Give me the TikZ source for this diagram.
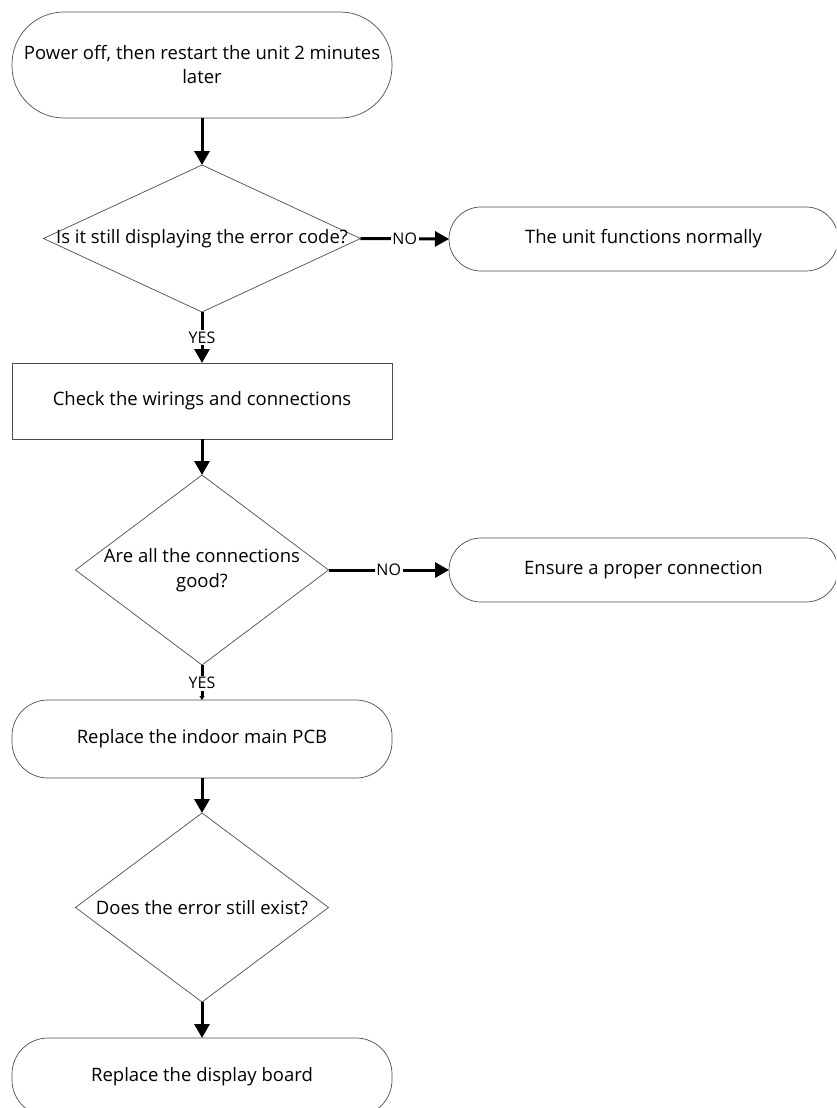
\documentclass[tikz,border=0pt]{standalone}
\usepackage{fontspec}
\setmainfont{Open Sans}
\usetikzlibrary{shapes.geometric,arrows.meta}
\begin{document}
\begin{tikzpicture}[x=1pt,y=-1pt,
  outline/.style={draw=black!70,line width=0.7pt},
  term/.style={outline,rectangle,inner sep=0pt,outer sep=0pt,align=center,font=\fontsize{18.5}{24}\selectfont,text=black},
  procbox/.style={outline,rectangle,inner sep=0pt,outer sep=0pt,align=center,font=\fontsize{18.5}{24}\selectfont,text=black},
  decision/.style={outline,diamond,inner sep=0pt,outer sep=0pt},
  dtext/.style={align=center,font=\fontsize{18.5}{25}\selectfont,text=black,inner sep=0pt},
  flow/.style={line width=3pt,-{Triangle[length=14pt,width=15pt]}},
  flowsmall/.style={line width=3pt,-{Triangle[length=4pt,width=5pt]}},
  lab/.style={fill=white,inner sep=1.5pt,font=\fontsize{16}{18}\selectfont,text=black}
]
\useasboundingbox (0,0) rectangle (836,1108);
\clip (0,0) rectangle (836,1108);

\node[term,minimum width=380pt,minimum height=106pt,rounded corners=52pt] (t1) at (202,65)
  {Power off, then restart the unit 2 minutes\\later};
\node[decision,minimum width=317pt,minimum height=147pt] (d1) at (202,238.5) {};
\node[dtext] at (202,238.5) {Is it still displaying the error code?};
\node[term,minimum width=389pt,minimum height=64pt,rounded corners=32pt] (t2) at (643.5,239)
  {The unit functions normally};
\node[procbox,minimum width=380pt,minimum height=76pt] (b1) at (202,401)
  {Check the wirings and connections};
\node[decision,minimum width=253pt,minimum height=190pt] (d2) at (202,570) {};
\node[dtext] at (202,570) {Are all the connections\\good?};
\node[term,minimum width=389pt,minimum height=64pt,rounded corners=32pt] (t3) at (643.5,570)
  {Ensure a proper connection};
\node[term,minimum width=380pt,minimum height=78pt,rounded corners=36pt] (t4) at (202,739)
  {Replace the indoor main PCB};
\node[decision,minimum width=253pt,minimum height=189pt] (d3) at (202,907.5) {};
\node[dtext] at (202,907.5) {Does the error still exist?};
\node[term,minimum width=380pt,minimum height=78pt,rounded corners=36pt] (t5) at (202,1077)
  {Replace the display board};

\draw[flow] (t1.south) -- (d1.north);
\draw[flow] (d1.east) -- node[lab]{NO} (t2.west);
\draw[flow] (d1.south) -- node[lab,pos=0.5]{YES} (b1.north);
\draw[flow] (b1.south) -- (d2.north);
\draw[flow] (d2.east) -- node[lab]{NO} (t3.west);
\draw[flowsmall] (d2.south) -- node[lab,pos=0.52]{YES} (t4.north);
\draw[flow] (t4.south) -- (d3.north);
\draw[flow] (d3.south) -- (t5.north);
\end{tikzpicture}
\end{document}
